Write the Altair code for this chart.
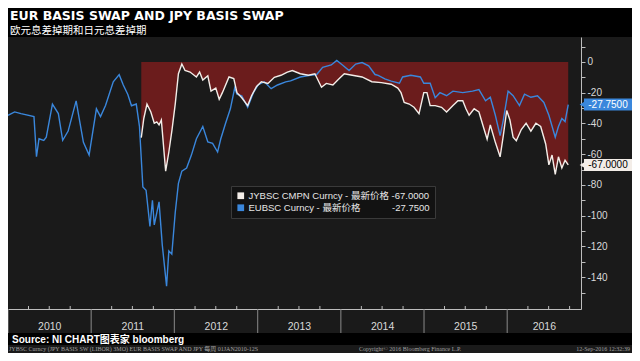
import altair as alt
import pandas as pd

# ---------------- data ----------------
eur_dates = ["2010-01-01", "2010-01-30", "2010-02-27", "2010-04-25", "2010-05-06", "2010-05-17",
             "2010-06-07", "2010-06-18", "2010-07-15", "2010-08-10", "2010-08-29", "2010-09-22",
             "2010-10-27", "2010-11-28", "2010-12-23", "2011-01-24", "2011-02-11", "2011-03-05",
             "2011-04-08", "2011-05-04", "2011-05-22", "2011-06-11", "2011-06-27", "2011-07-18",
             "2011-08-01", "2011-08-16", "2011-08-30", "2011-09-16", "2011-09-27", "2011-10-05",
             "2011-10-26", "2011-11-09", "2011-11-28", "2011-12-08", "2011-12-21", "2012-01-05",
             "2012-01-19", "2012-02-03", "2012-02-24", "2012-03-16", "2012-04-07", "2012-05-05",
             "2012-05-27", "2012-06-17", "2012-07-09", "2012-07-23", "2012-08-13", "2012-09-03",
             "2012-09-22", "2012-10-02", "2012-10-23", "2012-11-18", "2012-12-13", "2013-01-03",
             "2013-01-30", "2013-03-01", "2013-03-29", "2013-05-04", "2013-05-25", "2013-07-07",
             "2013-08-19", "2013-09-17", "2013-10-13", "2013-11-20", "2013-12-14", "2014-01-08",
             "2014-02-06", "2014-03-07", "2014-04-04", "2014-05-03", "2014-05-31", "2014-06-14",
             "2014-07-13", "2014-08-10", "2014-09-15", "2014-09-29", "2014-11-04", "2014-12-16",
             "2014-12-31", "2015-01-28", "2015-02-19", "2015-03-12", "2015-04-10", "2015-05-08",
             "2015-06-20", "2015-08-02", "2015-08-30", "2015-09-28", "2015-10-19", "2015-11-10",
             "2015-12-01", "2015-12-15", "2016-01-05", "2016-01-27", "2016-02-24", "2016-03-17",
             "2016-04-14", "2016-05-13", "2016-06-10", "2016-07-02", "2016-07-30", "2016-08-13",
             "2016-08-28", "2016-09-11", "2016-09-25"]
eur_vals = [-34.7, -32.5, -33.6, -35.6, -61.7, -50, -51, -49, -27.4, -33.6, -51, -45,
            -25.3, -52.3, -60.6, -30.5, -35.6, -28.4, -12.9, -8.3, -15, -21.2, -28.5, -27.4,
            -41.9, -81.4, -83.5, -107, -90, -106, -91, -118.8, -145.8, -122.9, -125, -98,
            -79, -71, -69, -60.6, -50, -42, -52, -53, -58.6, -50, -39.9, -30.5,
            -17, -21, -22, -29.5, -20, -15, -12.9, -17.4, -15, -13, -12.3, -9.8,
            -8.7, -8.2, -3.5, -2, 1, -2, -5.6, -1.4, -0.4, -2.5, -8.2, -8.7,
            -11, -12.5, -13.9, -9.8, -8.7, -9.8, -13.9, -13.9, -23.3, -20, -22, -19,
            -20, -19, -18, -25.3, -23, -34.7, -48, -37.8, -19, -22, -28.4, -21,
            -23, -22, -26.4, -34.7, -49, -42, -36.8, -38.8, -27.75]

jpy_dates = ["2011-08-09", "2011-08-20", "2011-09-03", "2011-09-20", "2011-10-05", "2011-10-16",
             "2011-10-26", "2011-11-05", "2011-11-24", "2011-12-08", "2011-12-22", "2012-01-05",
             "2012-01-19", "2012-02-03", "2012-02-17", "2012-03-10", "2012-04-07", "2012-04-21",
             "2012-05-05", "2012-05-27", "2012-06-10", "2012-07-01", "2012-07-16", "2012-07-30",
             "2012-08-28", "2012-09-18", "2012-10-02", "2012-10-23", "2012-11-18", "2012-12-05",
             "2012-12-27", "2013-01-17", "2013-02-15", "2013-03-15", "2013-04-13", "2013-05-11",
             "2013-06-02", "2013-07-07", "2013-08-12", "2013-09-09", "2013-10-08", "2013-10-29",
             "2013-11-27", "2013-12-25", "2014-01-16", "2014-02-20", "2014-04-04", "2014-05-17",
             "2014-06-28", "2014-08-10", "2014-09-08", "2014-09-22", "2014-10-06", "2014-10-28",
             "2014-11-18", "2014-12-10", "2014-12-31", "2015-01-14", "2015-01-28", "2015-02-19",
             "2015-03-19", "2015-04-10", "2015-05-08", "2015-05-30", "2015-06-20", "2015-07-04",
             "2015-07-18", "2015-08-09", "2015-08-30", "2015-09-20", "2015-10-05", "2015-10-19",
             "2015-11-10", "2015-12-01", "2015-12-15", "2015-12-30", "2016-01-13", "2016-01-27",
             "2016-02-10", "2016-03-03", "2016-03-24", "2016-04-14", "2016-05-06", "2016-05-27",
             "2016-06-18", "2016-07-02", "2016-07-16", "2016-07-30", "2016-08-13", "2016-08-28",
             "2016-09-11", "2016-09-25"]
jpy_vals = [-49.2, -36.8, -27.4, -32.6, -39.9, -39, -41, -37.8, -71, -58.6, -44, -27.4,
            -7.7, -1.4, -5.6, -6.6, -9.8, -6.6, -11.8, -9, -19, -17, -24.3, -20,
            -9.8, -10.8, -20, -23.3, -28.4, -22, -16, -12.9, -14, -10, -8.7, -6.6,
            -5.6, -7.7, -8.7, -7.7, -16.5, -14, -15, -10.8, -7.7, -8.7, -9.8, -12.9,
            -13.5, -14.5, -17, -20, -26.4, -27.4, -29.5, -33.6, -20, -20, -28.4, -28.4,
            -29.5, -32.6, -28.4, -25.3, -25.3, -30.5, -34.7, -30.5, -32.6, -43, -50.3, -41,
            -52.3, -61.7, -48, -31.6, -37.8, -49, -51.3, -44, -39.9, -45, -39.9, -42,
            -53.4, -66.9, -60.6, -73.1, -61.7, -69, -64, -67]

jpy_name = "JYBSC CMPN Curncy - 最新价格 -67.0000"
eur_name = "EUBSC Curncy - 最新价格" + "\u00a0" * 12 + "-27.7500"
last_series = [jpy_name, eur_name]
last_vals = [-67.0, -27.75]
last_labels = ["-67.0000", "-27.7500"]

year_starts = ["2010-01-01", "2011-01-01", "2012-01-01", "2013-01-01",
               "2014-01-01", "2015-01-01", "2016-01-01"]
year_label_pos = [(2010, 7, 1), (2011, 7, 1), (2012, 7, 1), (2013, 7, 1),
                  (2014, 7, 1), (2015, 7, 1), (2016, 6, 10)]
quarter_ticks = [f"{y}-{m:02d}-01" for y in range(2010, 2017) for m in (4, 7, 10)]

title_text = "EUR BASIS SWAP AND JPY BASIS SWAP"
subtitle_text = "欧元息差掉期和日元息差掉期"
source_text = "Source: NI CHART图表家 bloomberg"
footer_left = "JYBSC Curncy (JPY BASIS SW (LIBOR) 3MO) EUR BASIS SWAP AND JPY  每周 01JAN2010-12S"
footer_mid = "Copyright© 2016 Bloomberg Finance L.P."
footer_right = "12-Sep-2016 12:32:39"

# ---------------- layout / styles ----------------
W, H = 573, 272
TOTAL_W = 624
BG = "#1a1a1a"
RED = "#6b1c1c"
WHITE = "#f3ede8"
BLUE = "#3a87dc"
AXC = "#bdbdbd"
LAB = "#d9d9d9"
FONT = "Liberation Sans, Noto Sans CJK SC"

df_eur = pd.DataFrame({"date": pd.to_datetime(eur_dates), "value": eur_vals})
df_jpy = pd.DataFrame({"date": pd.to_datetime(jpy_dates), "value": jpy_vals})
df_last = pd.DataFrame({"series": last_series, "value": last_vals, "label": last_labels})
df_years = pd.DataFrame({"date": pd.to_datetime(year_starts)})
df_q = pd.DataFrame({"date": pd.to_datetime(quarter_ticks)})
one = pd.DataFrame({"a": [0]})

xscale = alt.Scale(domain=[alt.DateTime(year=2010, month=1, date=1),
                           alt.DateTime(year=2016, month=11, date=20)])
yscale = alt.Scale(domain=[-160.7, 16.2], nice=False, zero=False)

xaxis = alt.Axis(values=[alt.DateTime(year=y, month=m, date=d) for (y, m, d) in year_label_pos],
                 format="%Y", ticks=False, labelPadding=12, labelColor=LAB, labelFontSize=10.5,
                 labelFont=FONT, domainColor=AXC, title=None, labelAngle=0, labelFlush=False,
                 labelOverlap=False, grid=False)
yaxis = alt.Axis(orient="right", values=list(range(-150, 11, 10)),
                 labelExpr="datum.value % 20 == 0 && datum.value >= -140 ? '' + datum.value : ''",
                 tickSize=4, tickColor=AXC, domainColor=AXC, labelColor=LAB, labelFontSize=10,
                 labelFont=FONT, labelPadding=2, title=None, grid=False, labelOverlap=False)

cscale = alt.Scale(domain=[jpy_name, eur_name], range=[WHITE, BLUE])

X = alt.X("date:T", scale=xscale, axis=xaxis)
Y = alt.Y("value:Q", scale=yscale, axis=yaxis)

title_bar = alt.Chart(one).mark_rect(color="#000000").encode(
    x=alt.value(0), x2=alt.value(TOTAL_W), y=alt.value(-29), y2=alt.value(0))
source_bar = alt.Chart(one).mark_rect(color="#000000").encode(
    x=alt.value(0), x2=alt.value(TOTAL_W), y=alt.value(296), y2=alt.value(308))

title_mark = alt.Chart(one).mark_text(align="left", baseline="alphabetic", fontSize=12.5,
                                      fontWeight="bold", font="DejaVu Sans", color="#ffffff",
                                      text=title_text).encode(
    x=alt.value(2), y=alt.value(-17.5))
subtitle_mark = alt.Chart(one).mark_text(align="left", baseline="alphabetic", fontSize=10.5,
                                         font="Noto Sans CJK SC", color="#ffffff",
                                         text=subtitle_text).encode(
    x=alt.value(2), y=alt.value(-3))

area = alt.Chart(df_jpy).mark_area(color=RED, opacity=1).encode(x=X, y=Y, y2=alt.datum(0))

eur_line = alt.Chart(df_eur).mark_line(strokeWidth=1.4, color=BLUE).encode(x=X, y=Y)
jpy_line = alt.Chart(df_jpy).mark_line(strokeWidth=1.4, color=WHITE).encode(x=X, y=Y)

dividers = alt.Chart(df_years).mark_rule(color="#8a8a8a", strokeWidth=1).encode(
    x=X, y=alt.value(H), y2=alt.value(296))
qticks = alt.Chart(df_q).mark_rule(color=AXC, strokeWidth=1).encode(
    x=X, y=alt.value(H - 3), y2=alt.value(H))

legend = alt.Legend(title=None, orient="none", legendX=223, legendY=149,
                    fillColor="#121212", strokeColor="#3a3a3a", padding=5,
                    labelFontSize=9.5, labelColor="#e6e6e6", labelFont=FONT,
                    symbolType="square", symbolSize=45, rowPadding=1, labelLimit=400,
                    symbolStrokeWidth=0, labelOffset=3)

boxes = alt.Chart(df_last).transform_calculate(
    lo="datum.value - 3.9", hi="datum.value + 3.9"
).mark_rect().encode(
    x=alt.value(576), x2=alt.value(TOTAL_W),
    y=alt.Y("lo:Q", scale=yscale, axis=yaxis), y2="hi:Q",
    color=alt.Color("series:N", scale=cscale, legend=legend))
arrow_eur = alt.Chart(df_last).transform_filter("datum.value > -50").mark_point(
    shape="triangle-left", filled=True, size=30, opacity=1, strokeWidth=0, color=BLUE
).encode(x=alt.value(574), y=Y)
arrow_jpy = alt.Chart(df_last).transform_filter("datum.value <= -50").mark_point(
    shape="triangle-left", filled=True, size=30, opacity=1, strokeWidth=0, color=WHITE
).encode(x=alt.value(574), y=Y)
box_text = alt.Chart(df_last).mark_text(align="center", baseline="middle", fontSize=10,
                                        font=FONT).encode(
    x=alt.value(600), y=Y, text="label:N",
    color=alt.condition("datum.value > -50", alt.value("#ffffff"), alt.value("#000000")))

src = alt.Chart(one).mark_text(align="left", baseline="middle", fontSize=10, fontWeight="bold",
                               color="#ffffff", font=FONT, text=source_text).encode(
    x=alt.value(4), y=alt.value(302.5))
f1 = alt.Chart(one).mark_text(align="left", baseline="middle", fontSize=6, color="#a0a0a0",
                              font="Liberation Serif, Noto Sans CJK SC", text=footer_left).encode(
    x=alt.value(1), y=alt.value(312))
f2 = alt.Chart(one).mark_text(align="center", baseline="middle", fontSize=6, color="#a0a0a0",
                              font="Liberation Serif", text=footer_mid).encode(
    x=alt.value(402), y=alt.value(312))
f3 = alt.Chart(one).mark_text(align="right", baseline="middle", fontSize=6, color="#a0a0a0",
                              font="Liberation Serif", text=footer_right).encode(
    x=alt.value(622), y=alt.value(312))

chart = alt.layer(
    title_bar, source_bar, area, eur_line, jpy_line, dividers, qticks,
    boxes, arrow_eur, arrow_jpy, box_text, title_mark, subtitle_mark, src, f1, f2, f3
).properties(
    width=W, height=H,
    padding={"top": 29, "left": 0, "right": 51, "bottom": 44},
    autosize=alt.AutoSizeParams(type="none"),
    background=BG,
).configure_view(stroke="transparent").configure_axis(grid=False)

chart.save("out.html", embed_options={"renderer": "svg", "actions": False})
